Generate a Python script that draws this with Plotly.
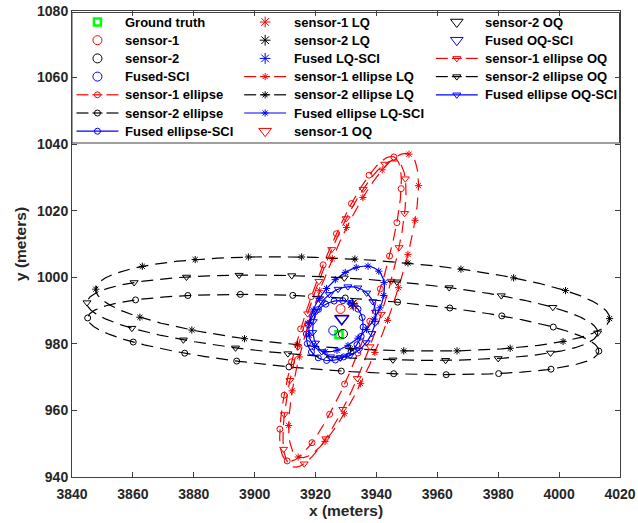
import numpy as np
import plotly.graph_objects as go

# ---------------- data ----------------
x_ticks = list(range(3840, 4021, 20))
y_ticks = list(range(940, 1081, 20))

point_names = ["Ground truth", "sensor-1", "sensor-2", "Fused-SCI",
               "sensor-1 LQ", "sensor-2 LQ", "Fused LQ-SCI",
               "sensor-1 OQ", "sensor-2 OQ", "Fused OQ-SCI"]
point_x = [3927.7, 3928.2, 3929.0, 3925.8, 3932.5, 3932.2, 3932.0, 3928.7, 3928.6, 3928.6]
point_y = [982.7, 990.5, 983.0, 984.0, 991.5, 992.0, 992.0, 987.7, 987.6, 987.5]

ellipse_names = ["sensor-1 ellipse", "sensor-2 ellipse", "Fused ellipse-SCI",
                 "sensor-1 ellipse LQ", "sensor-2 ellipse LQ", "Fused ellipse LQ-SCI",
                 "sensor-1 ellipse OQ", "sensor-2 ellipse OQ", "Fused ellipse OQ-SCI"]
ellipse_cx = [3928.2, 3929.1, 3926.3, 3932.5, 3932.2, 3930.2, 3929.5, 3928.8, 3929.4]
ellipse_cy = [990.5, 982.8, 984.0, 991.5, 992.0, 990.5, 989.0, 987.85, 986.5]
ellipse_a = [48.9, 84.1, 10.0, 49.0, 84.5, 15.5, 49.0, 84.0, 11.5]
ellipse_b = [10.3, 11.0, 8.3, 12.0, 13.5, 9.0, 11.4, 12.0, 9.5]
ellipse_angle = [69.0, -3.4, 40.0, 68.2, -3.0, 47.0, 69.5, -3.1, 50.0]
ellipse_nmark = [20, 20, 20, 20, 20, 20, 20, 20, 20]
ellipse_phase = [0.0, 0.0, 0.0, 0.0, 0.0, 0.0, 0.02, 0.0, 0.0]

# legend layout: which entries go in which column (MATLAB column-wise order)
legend_columns = [
    [("p", 0), ("p", 1), ("p", 2), ("p", 3), ("e", 0), ("e", 1), ("e", 2)],
    [("p", 4), ("p", 5), ("p", 6), ("e", 3), ("e", 4), ("e", 5), ("p", 7)],
    [("p", 8), ("p", 9), ("e", 6), ("e", 7), ("e", 8)],
]

# ---------------- styles ----------------
RED, BLACK, BLUE, GREEN = "#FF0000", "#000000", "#0000FF", "#00FF00"
AX = "#404040"
point_color = [GREEN, RED, BLACK, BLUE, RED, BLACK, BLUE, RED, BLACK, BLUE]
point_symbol = ["square-open", "circle-open", "circle-open", "circle-open",
                "asterisk-open", "asterisk-open", "asterisk-open",
                "triangle-down-open", "triangle-down-open", "triangle-down-open"]
point_size = [7, 9, 9, 9, 9, 9, 9, 12, 12, 12]
point_lw = [2.5, 1, 1, 1, 1, 1, 1, 1, 1, 1.4]

ell_color = [RED, BLACK, BLUE] * 3
ell_dashed = [True, True, False] * 3
ell_symbol = ["circle-open"] * 3 + ["asterisk-open"] * 3 + ["triangle-down-open"] * 3
ell_msize = [6, 6, 6, 6, 6, 6, 7, 7, 7]
DASH = "12px,7px"
FONT = "Liberation Sans, Arial, sans-serif"

W, H = 638, 523
L, R, T, B = 71.5, 17.5, 11, 46

# legend geometry (pixels)
col_sample_x0 = [76, 244, 436]
sample_len = 42
col_text_x = [123, 292, 483]
row_y0, row_dy = 22, 18.2
box = (71.5, 12.5, W - R - 0.5, 143)


def ellipse_curve(cx, cy, a, b, ang_deg, n_mark, phase):
    phi = np.deg2rad(ang_deg)
    t = np.linspace(0, 2 * np.pi, 2001)
    ex, ey = a * np.cos(t), b * np.sin(t)
    x = cx + ex * np.cos(phi) - ey * np.sin(phi)
    y = cy + ex * np.sin(phi) + ey * np.cos(phi)
    s = np.concatenate([[0], np.cumsum(np.hypot(np.diff(x), np.diff(y)))])
    sm = ((np.arange(n_mark) / n_mark + phase) % 1.0) * s[-1]
    return x, y, np.interp(sm, s, x), np.interp(sm, s, y)


def ell_marker(i):
    return dict(symbol=ell_symbol[i], size=ell_msize[i], color=ell_color[i],
                line=dict(color=ell_color[i], width=1))


def pt_marker(i):
    return dict(symbol=point_symbol[i], size=point_size[i], color=point_color[i],
                line=dict(color=point_color[i], width=point_lw[i]))


fig = go.Figure()

# ellipses
for i, name in enumerate(ellipse_names):
    x, y, mx, my = ellipse_curve(ellipse_cx[i], ellipse_cy[i], ellipse_a[i],
                                 ellipse_b[i], ellipse_angle[i],
                                 ellipse_nmark[i], ellipse_phase[i])
    fig.add_trace(go.Scatter(x=x, y=y, mode="lines", name=name, showlegend=False,
                             line=dict(color=ell_color[i], width=1.2,
                                       dash=DASH if ell_dashed[i] else "solid"),
                             hoverinfo="skip"))
    fig.add_trace(go.Scatter(x=mx, y=my, mode="markers", name=name, showlegend=False,
                             marker=ell_marker(i), hoverinfo="skip"))

# point estimates
for i, name in enumerate(point_names):
    fig.add_trace(go.Scatter(x=[point_x[i]], y=[point_y[i]], mode="markers", name=name,
                             showlegend=False, marker=pt_marker(i)))

# ---------------- legend (drawn on an overlay axis in pixel units) ----------------
bx0, by0, bx1, by1 = box
fig.add_trace(go.Scatter(x=[bx0, bx1, bx1, bx0, bx0], y=[by0, by0, by1, by1, by0],
                         xaxis="x2", yaxis="y2", mode="lines", fill="toself",
                         fillcolor="white", line=dict(color=AX, width=1),
                         showlegend=False, hoverinfo="skip"))
annotations = []
for c, entries in enumerate(legend_columns):
    x0 = col_sample_x0[c]
    x1 = x0 + sample_len
    xc = (x0 + x1) / 2
    for r, (kind, idx) in enumerate(entries):
        yr = row_y0 + r * row_dy
        if kind == "e":
            if ell_dashed[idx]:
                lx = [x0, x0 + 12, None, xc - 5, xc + 5, None, x1 - 12, x1]
                ly = [yr, yr, None, yr, yr, None, yr, yr]
            else:
                lx, ly = [x0, x1], [yr, yr]
            fig.add_trace(go.Scatter(x=lx, y=ly, xaxis="x2", yaxis="y2", mode="lines",
                                     line=dict(color=ell_color[idx], width=1.2),
                                     showlegend=False, hoverinfo="skip"))
            mk = ell_marker(idx)
            label = ellipse_names[idx]
        else:
            mk = pt_marker(idx)
            if point_symbol[idx].startswith("triangle"):
                mk["size"] = 11
                mk["line"] = dict(color=point_color[idx], width=1)
            label = point_names[idx]
        fig.add_trace(go.Scatter(x=[xc], y=[yr], xaxis="x2", yaxis="y2", mode="markers",
                                 marker=mk, showlegend=False, hoverinfo="skip"))
        annotations.append(dict(x=col_text_x[c], y=yr, xref="x2", yref="y2", text=label,
                                showarrow=False, xanchor="left", yanchor="middle",
                                font=dict(family=FONT, size=13, color="#000000",
                                          weight="bold")))

axis_common = dict(showgrid=False, zeroline=False, showline=True, mirror="ticks",
                   linecolor=AX, linewidth=1, ticks="inside", ticklen=5,
                   tickcolor=AX, automargin=False,
                   tickfont=dict(family=FONT, size=14, color="#262626", weight="bold"))

fig.update_layout(
    width=W, height=H, template="none", showlegend=False,
    margin=dict(l=L, r=R, t=T, b=B, autoexpand=False),
    paper_bgcolor="white", plot_bgcolor="white",
    font=dict(family=FONT, color="#262626"),
    annotations=annotations,
    xaxis=dict(range=[3840, 4020], tickvals=x_ticks, ticktext=[str(v) for v in x_ticks],
               ticklabelstandoff=4,
               title=dict(text="x (meters)", standoff=3,
                          font=dict(family=FONT, size=15.5, color="#262626", weight="bold")),
               **axis_common),
    yaxis=dict(range=[940, 1080], tickvals=y_ticks, ticktext=[str(v) for v in y_ticks],
               title=dict(text="y (meters)", standoff=6,
                          font=dict(family=FONT, size=15.5, color="#262626", weight="bold")),
               **axis_common),
    xaxis2=dict(overlaying="x", range=[L, W - R], visible=False, fixedrange=True),
    yaxis2=dict(overlaying="y", range=[H - B, T], visible=False, fixedrange=True),
)

fig.write_html("out.html", config={"displayModeBar": False},
               post_script="document.body.style.margin='0px';")
